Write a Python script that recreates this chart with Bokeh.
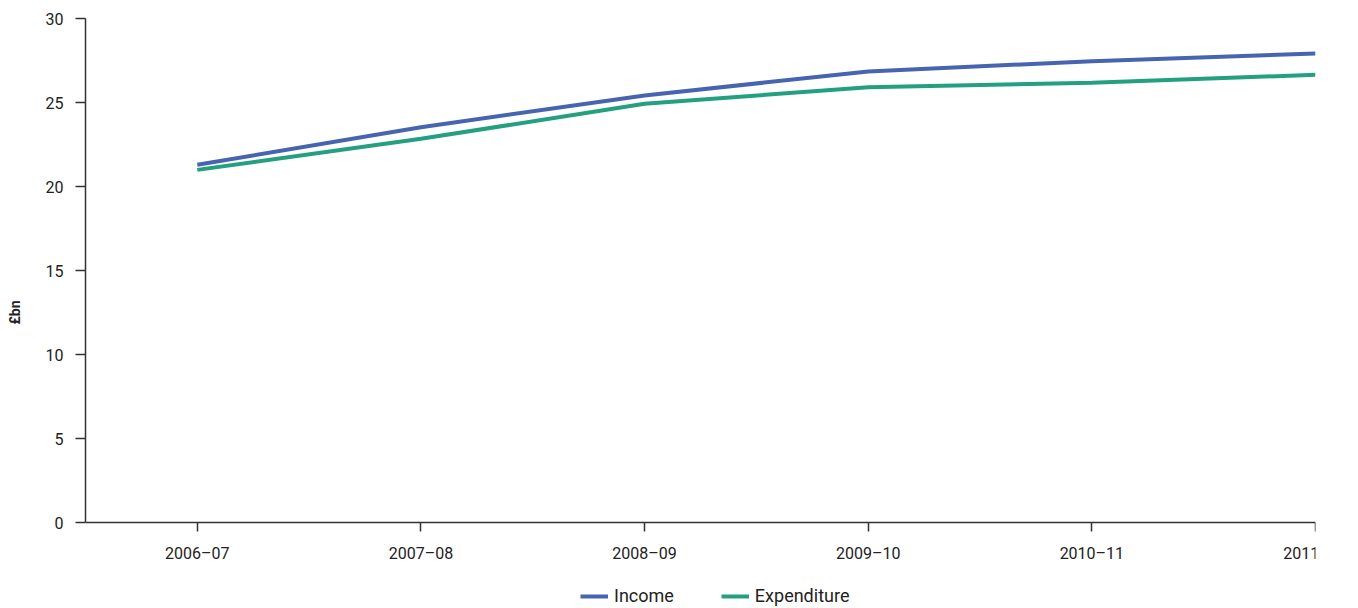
from bokeh.plotting import figure
from bokeh.models import Range1d, FixedTicker, Legend, LegendItem
from bokeh.embed import file_html
from bokeh.resources import INLINE

categories = ["2006–07", "2007–08", "2008–09", "2009–10", "2010–11", "2011–12"]
income = [21.29, 23.53, 25.42, 26.85, 27.46, 27.92]
expenditure = [20.99, 22.84, 24.92, 25.91, 26.17, 26.65]

xs = list(range(len(categories)))
FONT = "Roboto"
AXIS_COLOR = "#333333"

# frame extends below y=0 so the legend can sit inside it; the x axis is pinned at y=0
p = figure(frame_width=1230, frame_height=588, output_backend="svg", toolbar_location=None,
           x_range=Range1d(-0.5, len(categories) - 1), y_range=Range1d(-5, 30),
           min_border_left=85, min_border_right=43, min_border_top=18, min_border_bottom=0)
p.outline_line_color = None
p.xgrid.grid_line_color = None
p.ygrid.grid_line_color = None

r1 = p.line(xs, income, line_color="#4764b0", line_width=4)
r2 = p.line(xs, expenditure, line_color="#23a07f", line_width=4)

p.xaxis.ticker = FixedTicker(ticks=xs)
p.xaxis.major_label_overrides = {i: c for i, c in enumerate(categories)}
p.xaxis.fixed_location = 0
p.yaxis.ticker = FixedTicker(ticks=[0, 5, 10, 15, 20, 25, 30])
p.yaxis.bounds = (0, 30)

for ax in (p.xaxis[0], p.yaxis[0]):
    ax.axis_line_color = AXIS_COLOR
    ax.axis_line_width = 1.5
    ax.major_tick_line_color = AXIS_COLOR
    ax.major_tick_line_width = 1.5
    ax.minor_tick_line_color = None
    ax.major_tick_in = 0
    ax.major_label_text_font = FONT
    ax.major_label_text_font_size = "16px"
    ax.major_label_text_color = "#222222"

p.yaxis.major_tick_out = 10
p.yaxis.major_label_standoff = 12
p.xaxis.major_tick_out = 9
p.xaxis.major_label_standoff = 12

p.yaxis.axis_label = "£bn"
p.yaxis.axis_label_text_font = FONT
p.yaxis.axis_label_text_font_style = "bold"
p.yaxis.axis_label_text_font_size = "14px"
p.yaxis.axis_label_text_color = "#222222"
p.yaxis.axis_label_standoff = 20

legend = Legend(items=[LegendItem(label="Income", renderers=[r1]),
                       LegendItem(label="Expenditure", renderers=[r2])],
                orientation="horizontal", location=(495, 0),
                label_text_font=FONT, label_text_font_size="18px", label_text_color="#222222",
                glyph_width=28, glyph_height=20, label_height=20, label_standoff=6, spacing=47,
                border_line_color=None, background_fill_alpha=0, padding=0, margin=0)
p.add_layout(legend, "center")

html = file_html(p, INLINE)
html = html.replace("</head>", "<style>html, body { overflow: hidden; }</style></head>", 1)
open("out.html", "w").write(html)
